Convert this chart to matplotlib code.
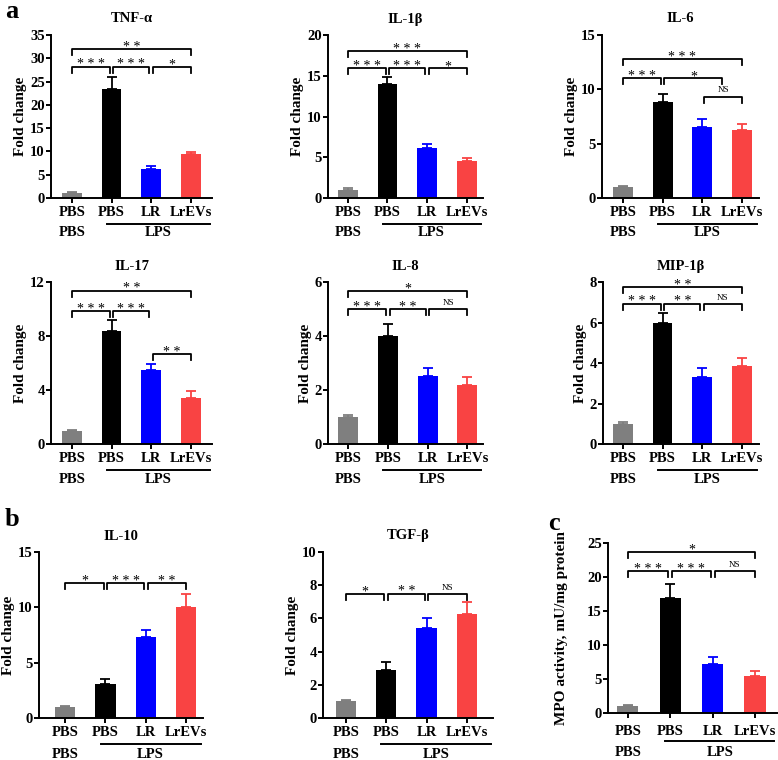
import matplotlib
matplotlib.use("Agg")
import matplotlib.pyplot as plt
from matplotlib.transforms import blended_transform_factory

plt.rcParams['font.family'] = ['Liberation Serif', 'DejaVu Serif']
plt.rcParams['font.weight'] = 'bold'

# ---------------- data ----------------
groups = ["PBS", "PBS", "LR", "LrEVs"]
bar_colors = ["#7f7f7f", "#000000", "#0000ff", "#f94343"]

tnf_mean = [1.0, 23.4, 6.2, 9.5]
tnf_err = [0.25, 2.5, 0.7, 0.45]
il1b_mean = [1.0, 14.0, 6.1, 4.55]
il1b_err = [0.18, 0.85, 0.55, 0.3]
il6_mean = [1.0, 8.8, 6.55, 6.3]
il6_err = [0.08, 0.75, 0.75, 0.5]
il17_mean = [1.0, 8.4, 5.5, 3.4]
il17_err = [0.07, 0.75, 0.42, 0.55]
il8_mean = [1.0, 4.0, 2.53, 2.19]
il8_err = [0.06, 0.45, 0.28, 0.28]
mip_mean = [1.0, 5.98, 3.31, 3.84]
mip_err = [0.07, 0.49, 0.45, 0.41]
il10_mean = [0.97, 3.05, 7.29, 10.07]
il10_err = [0.15, 0.45, 0.7, 1.1]
tgf_mean = [1.0, 2.87, 5.42, 6.24]
tgf_err = [0.08, 0.48, 0.6, 0.76]
mpo_mean = [1.0, 16.85, 7.23, 5.37]
mpo_err = [0.2, 2.05, 1.07, 0.88]

# significance brackets: (from, to, height, label)
tnf_sig = [(0, 3, 31.9, "**"), (0, 1, 28.2, "***"), (1, 2, 28.2, "***"), (2, 3, 28.2, "*")]
il1b_sig = [(0, 3, 18.0, "***"), (0, 1, 15.9, "***"), (1, 2, 15.9, "***"), (2, 3, 15.9, "*")]
il6_sig = [(0, 3, 12.8, "***"), (0, 1, 11.0, "***"), (1, 2.55, 11.0, "*"), (2, 3, 9.34, "NS")]
il17_sig = [(0, 3, 11.36, "**"), (0, 1, 9.85, "***"), (1, 2, 9.85, "***"), (2, 3, 6.67, "**")]
il8_sig = [(0, 3, 5.68, "*"), (0, 1, 5.0, "***"), (1, 2, 5.0, "**"), (2, 3, 5.0, "NS")]
mip_sig = [(0, 3, 7.75, "**"), (0, 1, 6.93, "***"), (1, 2, 6.93, "**"), (2, 3, 6.93, "NS")]
il10_sig = [(0, 1, 12.19, "*"), (1, 2, 12.19, "***"), (2, 3, 12.19, "**")]
tgf_sig = [(0, 1, 7.49, "*"), (1, 2, 7.49, "**"), (2, 3, 7.49, "NS")]
mpo_sig = [(0, 3, 23.7, "*"), (0, 1, 20.9, "***"), (1, 2, 20.9, "***"), (2, 3, 20.9, "NS")]

W, H = 778, 760
fig = plt.figure(figsize=(W / 100, H / 100), dpi=100)
fig.patch.set_facecolor("white")

# (title, mean, err, sig, ymax, ystep, ylabel, left, top, right, bottom, xlim, label offsets px, labelpad)
panels = [
    ("TNF-α", tnf_mean, tnf_err, tnf_sig, 35, 5, "Fold change", 51, 35, 212, 198, (-0.53, 3.54), (15, 26, 35), 2),
    ("IL-1β", il1b_mean, il1b_err, il1b_sig, 20, 5, "Fold change", 328, 35, 483, 198, (-0.50, 3.41), (15, 26, 35), 2),
    ("IL-6", il6_mean, il6_err, il6_sig, 15, 5, "Fold change", 602, 35, 759, 198, (-0.53, 3.43), (15, 26, 35), 2),
    ("IL-17", il17_mean, il17_err, il17_sig, 12, 4, "Fold change", 51, 282, 212, 444, (-0.53, 3.54), (15, 26, 35), 2),
    ("IL-8", il8_mean, il8_err, il8_sig, 6, 2, "Fold change", 328, 282, 483, 444, (-0.50, 3.39), (15, 26, 35), 2),
    ("MIP-1β", mip_mean, mip_err, mip_sig, 8, 2, "Fold change", 603, 282, 759, 444, (-0.50, 3.43), (15, 26, 35), 2),
    ("IL-10", il10_mean, il10_err, il10_sig, 15, 5, "Fold change", 39, 552, 203, 718, (-0.65, 3.42), (15, 26, 37), 2),
    ("TGF-β", tgf_mean, tgf_err, tgf_sig, 10, 2, "Fold change", 323, 552, 493, 718, (-0.57, 3.65), (15, 26, 37), 2),
    (None, mpo_mean, mpo_err, mpo_sig, 25, 5, "MPO activity, mU/mg protein", 608, 543, 777, 713, (-0.47, 3.52), (19, 28, 39), 14),
]

for (title, mean, err, sig, ymax, ystep, ylab, lpx, tpx, rpx, bpx, xl, offs, lpad) in panels:
    ax = fig.add_axes([lpx / W, 1 - bpx / H, (rpx - lpx) / W, (bpx - tpx) / H])
    hpx = bpx - tpx
    xs = list(range(len(groups)))
    ax.bar(xs, mean, width=0.5, color=bar_colors, zorder=2)
    for x, m, e, c in zip(xs, mean, err, bar_colors):
        ax.errorbar([x], [m], yerr=[[0], [e]], fmt="none", ecolor=c,
                    elinewidth=1.3, capsize=3.5, capthick=1.3, zorder=3)
    ax.set_xlim(*xl)
    ax.set_ylim(0, ymax)
    ax.set_yticks(range(0, ymax + 1, ystep))
    ax.set_xticks(xs)
    ax.set_xticklabels(groups)
    for sp in ["top", "right"]:
        ax.spines[sp].set_visible(False)
    for sp in ["left", "bottom"]:
        ax.spines[sp].set_linewidth(1.4)
    ax.tick_params(axis="both", width=1.4, length=3.5, labelsize=10.5)
    ax.tick_params(axis="y", pad=1)
    ax.tick_params(axis="x", pad=2 + (offs[0] - 15) * 0.72)
    for lab in ax.get_xticklabels() + ax.get_yticklabels():
        lab.set_fontweight("bold")
    ax.set_ylabel(ylab, fontsize=11, fontweight="bold", labelpad=lpad)
    if title:
        ax.set_title(title, fontsize=10.5, fontweight="bold", pad=9)

    # second row of labels + LPS line
    tr = blended_transform_factory(ax.transData, ax.transAxes)
    x0, x1 = 0.88, xl[1] - 0.06
    yline = -offs[1] / hpx
    ax.plot([x0, x1], [yline, yline], color="black", lw=1.4, transform=tr, clip_on=False)
    ax.text(0, -offs[2] / hpx, "PBS", transform=tr, ha="center", va="center",
            fontsize=10.5, fontweight="bold")
    ax.text((x0 + x1) / 2, -offs[2] / hpx, "LPS", transform=tr, ha="center", va="center",
            fontsize=10.5, fontweight="bold")

    # significance brackets
    drop = 6 * ymax / hpx
    for (i, j, yb, lab) in sig:
        a = i + (0.045 if i > 0 else 0)
        b = j - (0.045 if j < 3 else 0)
        ax.plot([a, a, b, b], [yb - drop, yb, yb, yb - drop], color="black", lw=1.3,
                clip_on=False, zorder=4)
        if lab == "NS":
            ax.annotate("NS", ((a + b) / 2, yb), xytext=(0, 1.5), textcoords="offset points",
                        ha="center", va="bottom", fontsize=6.5, fontweight="normal")
        else:
            ax.annotate(" ".join(lab), ((a + b) / 2, yb), xytext=(0, -1.2), textcoords="offset points",
                        ha="center", va="baseline", fontsize=10, fontweight="normal")

fig.text(5 / W, 1 - 12 / H, "a", fontsize=19, fontweight="bold", va="center", ha="left")
fig.text(5 / W, 1 - 520 / H, "b", fontsize=19, fontweight="bold", va="center", ha="left")
fig.text(548 / W, 1 - 524 / H, "c", fontsize=19, fontweight="bold", va="center", ha="left")

fig.savefig("out.png", dpi=100, facecolor="white")
